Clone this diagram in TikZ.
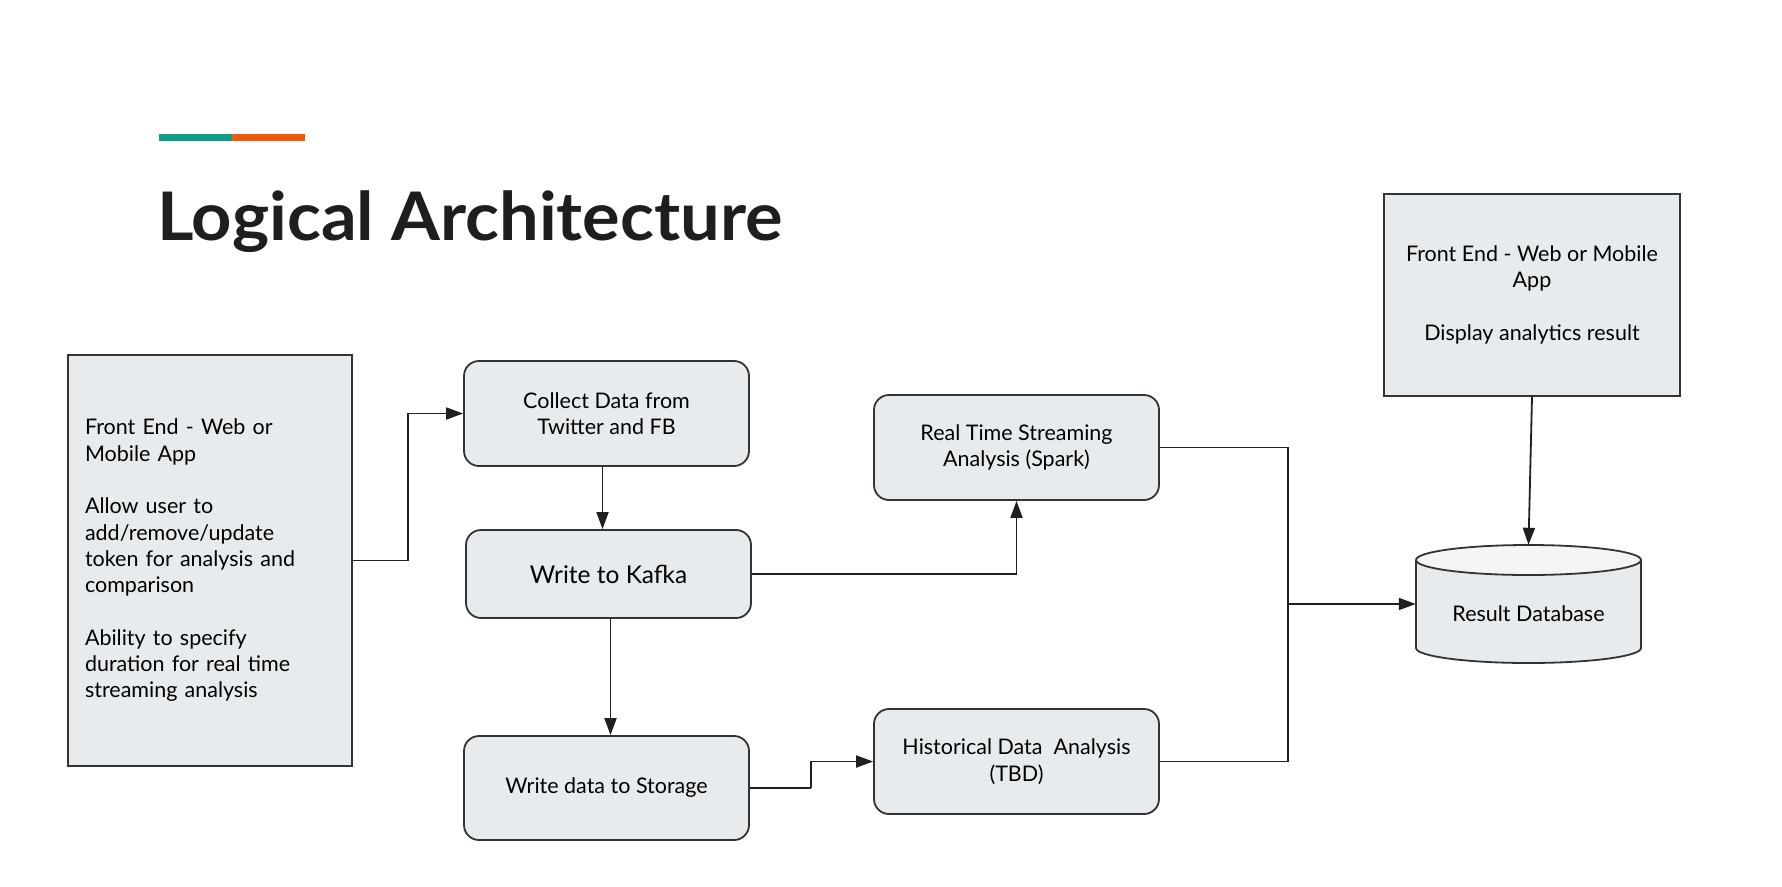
\documentclass[tikz,border=0pt]{standalone}
\usepackage{fontspec}
\setmainfont{Lato}
\newfontfamily\titlefont{Lato}[FakeStretch=1.05]
\usetikzlibrary{arrows.meta,calc}
\definecolor{boxfill}{HTML}{E8EBED}
\definecolor{boxline}{HTML}{333333}
\definecolor{dbtop}{HTML}{F3F5F6}
\definecolor{accentA}{HTML}{0F9D8A}
\definecolor{accentB}{HTML}{EE5A0A}
\definecolor{titlecol}{HTML}{1E1E1E}
\begin{document}
\begin{tikzpicture}[x=1pt,y=-1pt,
  box/.style={draw=boxline, line width=1.8pt, fill=boxfill, font=\fontsize{21.5}{26.3}\selectfont, align=center, inner sep=0pt},
  rbox/.style={box, rounded corners=15pt, minimum width=285pt},
  conn/.style={draw=black!88, line width=1.8pt},
  arr/.style={conn, -{Triangle[length=17pt,width=12pt]}}]
\fill[white] (0,0) rectangle (1782,886);
\useasboundingbox (0,0) rectangle (1782,886);
% accent bar and title
\fill[accentA] (159,134) rectangle (232,141);
\fill[accentB] (232,134) rectangle (305,141);
\node[anchor=base west, inner sep=0pt, text=titlecol, font=\titlefont\fontsize{67}{80}\selectfont\bfseries] (title) at (157,240) {Logical Architecture};
% nodes
\node[box, minimum width=284pt, minimum height=411pt, text width=250pt, align=left] (fe1) at (210,560.5)
 {Front End - Web or\\Mobile App\\[26.3pt]Allow user to\\add/remove/update\\token for analysis and\\comparison\\[26.3pt]Ability to specify\\duration for real time\\streaming analysis};
\node[rbox, minimum height=105pt] (collect) at (606.5,413.5) {Collect Data from\\Twitter and FB};
\node[rbox, minimum height=88pt, font=\fontsize{24.5}{29}\selectfont] (kafka) at (608.5,574) {Write to Kafka};
\node[rbox, minimum height=104pt] (storage) at (606.5,788) {Write data to Storage};
\node[rbox, minimum height=105pt] (rt) at (1016.5,447.5) {Real Time Streaming\\Analysis (Spark)};
\node[rbox, minimum height=105pt] (hist) at (1016.5,761.5) {Historical Data~ Analysis\\(TBD)};
\node[box, minimum width=296pt, minimum height=202pt] (fe2) at (1532,295) {Front End - Web or Mobile\\App\\[26.3pt]Display analytics result};
% database cylinder
\node[minimum width=225pt, minimum height=118pt, inner sep=0pt] (db) at (1528.5,604) {};
\path[fill=boxfill, draw=boxline, line width=1.8pt] (1416,560) -- (1416,648) arc[start angle=180, end angle=360, x radius=112.5pt, y radius=15pt] -- (1641,560);
\path[fill=dbtop, draw=boxline, line width=1.8pt] (1528.5,560) ellipse [x radius=112.5pt, y radius=15pt];
\node[inner sep=0pt, font=\fontsize{21.5}{26}\selectfont] (dblabel) at (1528.5,614) {Result Database};
% connectors
\coordinate (j1) at (408,560.5);
\draw[conn] (fe1.east) -- (j1);
\draw[arr] (j1) |- (collect.west);
\draw[arr] ([xshift=-4pt]collect.south) -- ([xshift=-4pt]collect.south |- kafka.north);
\draw[arr] ([xshift=2pt]kafka.south) -- ([xshift=2pt]kafka.south |- storage.north);
\draw[arr] (kafka.east) -| (rt.south);
\coordinate (j2) at (811,788);
\draw[conn] (storage.east) -- (j2);
\draw[arr] (j2) |- (hist.west);
\coordinate (j3) at (1288,604);
\draw[conn] (rt.east) -| (j3);
\draw[conn] (hist.east) -| (j3);
\draw[arr] (j3) -- (db.west);
\draw[arr] (fe2.south) -- (db.north);
\end{tikzpicture}
\end{document}
